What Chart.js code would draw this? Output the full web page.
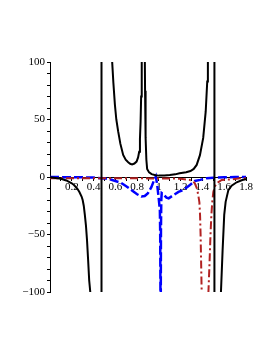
<!DOCTYPE html>
<html><head><meta charset="utf-8">
<script src="https://cdn.jsdelivr.net/npm/chart.js@4"></script>
<style>html,body{margin:0;padding:0;background:#fff}#wrap{width:273px;height:353px}</style>
</head><body><div id="wrap"><canvas id="c" width="273" height="353"></canvas></div>
<script>
// black solid curve (null = break between branches)
const blackX = [0,0.05,0.1,0.15,0.2,0.22,0.25,0.27,0.29,0.3,0.31,0.32,0.33,0.34,0.35,0.36,0.37,0.375, 0.42, 0.473,0.473, 0.52,
  0.567,0.571,0.582,0.596,0.609,0.626,0.646,0.672,0.695,0.718,0.736,0.754,0.775,0.795,0.809,0.819,0.826,0.832,0.837,0.841,0.844, 0.857,
  0.869,0.871,0.873,0.878,0.885,0.892,0.91,0.933,0.97,1.0,1.05,1.1,1.15,1.19,1.25,1.29,1.32,1.347,1.377,1.407,1.43,1.444,1.45,1.453, 1.48,
  1.51,1.51, 1.54,
  1.565,1.57,1.585,1.6,1.613,1.638,1.668,1.714,1.766,1.8];
const blackY = [-0.3,-0.8,-1.5,-3,-5.5,-7,-10,-13,-17,-20,-25,-33,-42,-55,-72,-90,-100,-115, null, -115,115, null,
  115,100,82,63,50,39.6,29,19.2,15,12.8,11.5,11,11.7,13.4,17,22,33,48,70,92,115, null,
  115,100,75,34,15,7,4,2.5,1.5,1.2,1.3,1.7,2.3,3.2,4.2,5.2,7,10.5,19,34,57,83,100,115, null,
  115,-115, null,
  -115,-100,-64,-33,-21.6,-11.4,-7.6,-4.6,-2.6,-2];

// blue dashed curve
const blueX = [0,0.1,0.2,0.3,0.4,0.5,0.55,0.6,0.65,0.7,0.75,0.8,0.84,0.87,0.9,0.93,0.955,0.972,0.985,1.0,1.009,1.012,1.015, 1.016,
  1.017,1.019,1.022,1.026,1.04,1.07,1.09,1.13,1.18,1.224,1.285,1.33,1.38,1.44,1.5,1.6,1.7,1.8];
const blueY = [0,-0.1,-0.2,-0.3,-0.5,-1.2,-2,-3.5,-5,-8,-11.5,-15,-17,-16.5,-14,-9,-3,0.5,-7,-20,-29,-48,-115, null,
  -115,-45,-20,-14,-15,-18,-18.5,-16,-13,-11.4,-7,-3.5,-2.5,-1,-0.6,-0.3,0,0];

// red dash-dot curve
const redX = [0,0.3,0.6,0.9,1.1,1.2,1.28,1.31,1.33,1.35,1.362,1.372,1.378,1.383,1.388,1.393,1.395, 1.42,
  1.452,1.455,1.465,1.474,1.482,1.49,1.5,1.515,1.53,1.577,1.668,1.745,1.8];
const redY = [-1,-1,-1.1,-1.2,-1.3,-1.5,-2.5,-3.5,-5.5,-10,-16,-22,-33,-50,-75,-100,-115, null,
  -115,-100,-75,-50,-33,-22,-13,-8,-5.5,-2.6,-2,-1.1,-1];

const xTickLabels = [0.2,0.4,0.6,0.8,1,1.2,1.4,1.6,1.8];
const yTickLabels = [-100,-50,0,50,100];

const pts = (xs, ys) => xs.map((x, i) => ({x: x, y: ys[i]}));
const font = {family: 'Liberation Serif', size: 11};

new Chart(document.getElementById('c'), {
  type: 'line',
  data: {
    datasets: [
      {data: pts(blackX, blackY), borderColor: '#000', borderWidth: 2, spanGaps: false, clip: 0},
      {data: pts(redX, redY), borderColor: '#b22222', borderWidth: 2, borderDash: [8,3,2,3], spanGaps: false, clip: 0},
      {data: pts(blueX, blueY), borderColor: '#0000ff', borderWidth: 2.5, borderDash: [9,3], spanGaps: false, clip: 0}
    ]
  },
  options: {
    responsive: false, animation: false, devicePixelRatio: 1,
    layout: {padding: {left: 10, right: 27, top: 62, bottom: 61}},
    plugins: {legend: {display: false}, tooltip: {enabled: false}},
    elements: {point: {radius: 0}, line: {tension: 0}},
    scales: {
      x: {
        type: 'linear', min: 0, max: 1.8, position: {y: 0},
        afterFit: s => { s.height = 0; },
        border: {color: '#000', width: 1},
        grid: {drawOnChartArea: false, color: '#000', tickLength: 3},
        ticks: {stepSize: 0.1, autoSkip: false, maxRotation: 0, minRotation: 0, color: '#000', font: font, padding: 1,
          callback: v => { const k = Math.round(v * 10) / 10; return xTickLabels.some(t => Math.abs(t - k) < 1e-9) ? String(k) : ''; }}
      },
      y: {
        type: 'linear', min: -100, max: 100, position: 'left',
        afterFit: s => { s.width = 40; },
        border: {color: '#000', width: 1},
        grid: {drawOnChartArea: false, color: '#000', tickLength: 3},
        ticks: {stepSize: 10, autoSkip: false, color: '#000', font: font, padding: 2,
          callback: v => { const k = Math.round(v); return yTickLabels.includes(k) ? (k < 0 ? '\u2212' + (-k) : String(k)) : ''; }}
      }
    }
  }
});
</script>
</body></html>
